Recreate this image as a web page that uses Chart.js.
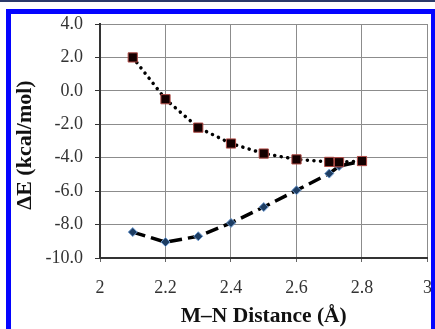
<!DOCTYPE html>
<html>
<head>
<meta charset="utf-8">
<script src="https://cdn.jsdelivr.net/npm/chart.js@4"></script>
<style>
  body { margin: 0; background: #fff; }
  #wrap { position: relative; width: 435px; height: 329px; overflow: hidden; }
  #topline { position: absolute; left: 0; top: 0; width: 435px; height: 2px; background: #2b3a6b; }
  #frame {
    position: absolute; left: 6px; top: 9px; width: 429px; height: 330px;
    box-sizing: border-box; border-style: solid; border-color: #0505ff;
    border-width: 5px 4px 0 5px; pointer-events: none;
  }
  canvas { position: absolute; left: 0; top: 0; }
</style>
</head>
<body>
<div id="wrap">
  <canvas id="chart" width="435" height="329"></canvas>
  <div id="topline"></div>
  <div id="frame"></div>
</div>
<script>
// M–N distance (Å)
const distances = [2.1, 2.2, 2.3, 2.4, 2.5, 2.6, 2.7, 2.73, 2.8];
// ΔE (kcal/mol), square markers, dotted line
const squareSeries = [2.0, -0.5, -2.2, -3.15, -3.75, -4.1, -4.25, -4.27, -4.2];
// ΔE (kcal/mol), diamond markers, dashed line
const diamondSeries = [-8.45, -9.05, -8.7, -7.9, -6.95, -5.95, -4.95, -4.5, -4.2];

const yTicks = [-10, -8, -6, -4, -2, 0, 2, 4];
const xTicks = [2, 2.2, 2.4, 2.6, 2.8, 3];
const yTitle = 'ΔE (kcal/mol)';

const toPoints = ys => distances.map((x, i) => ({ x: x, y: ys[i] }));

const serif = 'Liberation Serif, Times New Roman, serif';

// y title drawn by hand so it can sit a bit below the middle like the original
const yTitlePlugin = {
  id: 'yTitle',
  afterDraw(chart) {
    const { ctx } = chart;
    ctx.save();
    ctx.translate(25, 145);
    ctx.rotate(-Math.PI / 2);
    ctx.font = 'bold 22px ' + serif;
    ctx.fillStyle = '#111';
    ctx.textAlign = 'center';
    ctx.textBaseline = 'middle';
    ctx.fillText(yTitle, 0, 0);
    ctx.restore();
  }
};

new Chart(document.getElementById('chart'), {
  type: 'line',
  data: {
    datasets: [
      {
        label: 'squares',
        data: toPoints(squareSeries),
        borderColor: '#000',
        borderWidth: 3.5,
        borderDash: [0.1, 6.5],
        borderCapStyle: 'round',
        pointStyle: 'rect',
        pointRadius: 6.5,
        pointBackgroundColor: '#140000',
        pointBorderColor: '#b04a45',
        pointBorderWidth: 1,
        order: 1
      },
      {
        label: 'diamonds',
        data: toPoints(diamondSeries),
        borderColor: '#000',
        borderWidth: 3.5,
        borderDash: [13, 6],
        borderCapStyle: 'butt',
        pointStyle: 'rectRot',
        pointRadius: 4.5,
        pointBackgroundColor: '#1d3d63',
        pointBorderColor: '#6f9bd0',
        pointBorderWidth: 1,
        order: 2
      }
    ]
  },
  plugins: [yTitlePlugin],
  options: {
    responsive: false,
    animation: false,
    layout: { padding: { left: 0, right: 7, top: 24, bottom: 0 } },
    plugins: { legend: { display: false }, tooltip: { enabled: false } },
    scales: {
      x: {
        type: 'linear',
        min: 2,
        max: 3,
        afterBuildTicks: s => { s.ticks = xTicks.map(v => ({ value: v })); },
        afterFit: s => { s.height = 71; s.paddingLeft = 0; s.paddingRight = 0; },
        ticks: {
          padding: 15,
          color: '#333',
          font: { family: serif, size: 18 },
          callback: v => String(Number(v.toFixed(1)))
        },
        grid: { color: '#8c8c8c', lineWidth: 1, tickLength: 4, tickColor: '#666' },
        border: { color: '#333', width: 2 },
        title: {
          display: true,
          text: 'M–N Distance (Å)',
          color: '#111',
          padding: { top: 0, bottom: 0 },
          font: { family: serif, size: 21.5, weight: 'bold' }
        }
      },
      y: {
        min: -10,
        max: 4,
        afterBuildTicks: s => { s.ticks = yTicks.map(v => ({ value: v })); },
        afterFit: s => { s.width = 100; },
        ticks: {
          padding: 12,
          color: '#333',
          font: { family: serif, size: 18 },
          callback: v => v.toFixed(1)
        },
        grid: { color: '#8c8c8c', lineWidth: 1, tickLength: 5, tickColor: '#333' },
        border: { color: '#333', width: 2 },
        title: { display: false }
      }
    }
  }
});
</script>
</body>
</html>
